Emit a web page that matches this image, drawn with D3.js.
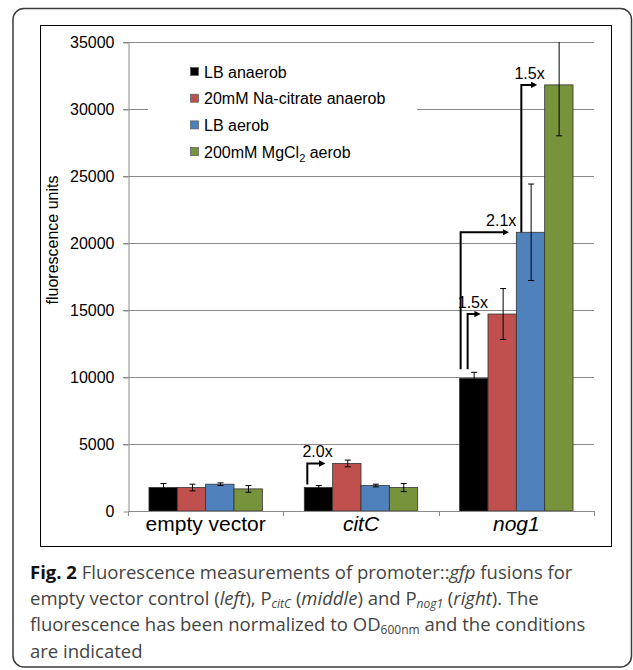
<!DOCTYPE html>
<html>
<head>
<meta charset="utf-8">
<script src="https://cdn.jsdelivr.net/npm/d3@7"></script>
<style>
  html, body { margin: 0; padding: 0; background: #fff; }
  svg { display: block; }
  .chart text { font-family: "Liberation Sans", Arial, sans-serif; fill: #000; }
  .caption text { font-family: "Open Sans", "Noto Sans", sans-serif; fill: #444; }
</style>
</head>
<body>
<svg id="fig" width="633" height="670"></svg>
<script>
'use strict';

// categories and series
var categories = ['empty vector', 'citC', 'nog1'];
var italicCats = ['citC', 'nog1'];
var seriesNames = ['LB anaerob', '20mM Na-citrate anaerob', 'LB aerob', '200mM MgCl2 aerob'];
var seriesColors = ['#000000', '#c0504d', '#4f81bd', '#77933c'];

// mean fluorescence per category, one array per series
var lbAnaerob = [1750, 1750, 9900];
var citrateAnaerob = [1750, 3550, 14700];
var lbAerob = [2000, 1900, 20800];
var mgcl2Aerob = [1650, 1750, 31800];

// error bars (+/-)
var lbAnaerobErr = [300, 150, 450];
var citrateAnaerobErr = [250, 250, 1900];
var lbAerobErr = [100, 100, 3600];
var mgcl2AerobErr = [250, 300, 3800];

var yTicks = [0, 5000, 10000, 15000, 20000, 25000, 30000, 35000];

// fold-change annotations: category, from series index, to series index
var folds = [
  { cat: 'citC', from: 0, to: 1, label: '2.0x' },
  { cat: 'nog1', from: 0, to: 1, label: '1.5x' },
  { cat: 'nog1', from: 0, to: 2, label: '2.1x' },
  { cat: 'nog1', from: 2, to: 3, label: '1.5x' }
];

var values = [lbAnaerob, citrateAnaerob, lbAerob, mgcl2Aerob];
var errors = [lbAnaerobErr, citrateAnaerobErr, lbAerobErr, mgcl2AerobErr];

var svg = d3.select('#fig');

// outer frame and inner chart frame
svg.append('rect')
  .attr('x', 13).attr('y', 8.5)
  .attr('width', 618.5).attr('height', 658.5)
  .attr('rx', 11)
  .attr('fill', 'none')
  .attr('stroke', '#3a3a3a')
  .attr('stroke-width', 1.5);

var chart = svg.append('g').attr('class', 'chart');

chart.append('rect')
  .attr('x', 40.5).attr('y', 25.5)
  .attr('width', 571).attr('height', 521)
  .attr('fill', '#fff')
  .attr('stroke', '#000')
  .attr('stroke-width', 1);

var plotLeft = 128, plotRight = 594;

var x0 = d3.scaleBand()
  .domain(categories)
  .range([plotLeft, plotRight])
  .paddingInner(0.27)
  .paddingOuter(0.135);

var x1 = d3.scaleBand()
  .domain(d3.range(seriesNames.length))
  .range([0, x0.bandwidth()]);

var y = d3.scaleLinear()
  .domain([0, 35000])
  .range([511, 42]);

// gridlines
chart.append('g')
  .selectAll('line')
  .data(yTicks.filter(function (d) { return d > 0; }))
  .enter()
  .append('line')
  .attr('x1', plotLeft - 5)
  .attr('x2', plotRight)
  .attr('y1', function (d) { return Math.round(y(d)) + 0.5; })
  .attr('y2', function (d) { return Math.round(y(d)) + 0.5; })
  .attr('stroke', '#8a8a8a')
  .attr('stroke-width', 1);

// y axis
var yAxis = chart.append('g')
  .attr('transform', 'translate(' + (plotLeft + 0.5) + ',0.5)')
  .call(d3.axisLeft(y).tickValues(yTicks).tickSize(5).tickSizeOuter(0).tickFormat(d3.format('d')));
yAxis.select('.domain').attr('stroke', '#8a8a8a');
yAxis.selectAll('.tick line').attr('stroke', '#8a8a8a');
yAxis.selectAll('.tick text')
  .attr('x', -14)
  .style('font-size', '16px')
  .style('font-family', '"Liberation Sans", Arial, sans-serif');

// y label
chart.append('text')
  .attr('transform', 'translate(58,240) rotate(-90)')
  .attr('text-anchor', 'middle')
  .style('font-size', '16px')
  .text('fluorescence units');

// legend (white box hides gridline)
var legend = chart.append('g');
legend.append('rect')
  .attr('x', 148).attr('y', 56)
  .attr('width', 269).attr('height', 110)
  .attr('fill', '#fff');

var legendItems = legend.selectAll('g.item')
  .data(seriesNames)
  .enter()
  .append('g')
  .attr('class', 'item')
  .attr('transform', function (d, i) { return 'translate(190,' + (72 + i * 26.7) + ')'; });

legendItems.append('rect')
  .attr('x', 0.5).attr('y', -4.5)
  .attr('width', 8).attr('height', 8)
  .attr('fill', function (d, i) { return seriesColors[i]; })
  .attr('stroke', '#555')
  .attr('stroke-width', 0.7);

legendItems.append('text')
  .attr('x', 14)
  .attr('dy', '0.35em')
  .style('font-size', '16px')
  .each(function (d) {
    var t = d3.select(this);
    if (d.indexOf('MgCl2') >= 0) {
      t.append('tspan').text('200mM MgCl');
      t.append('tspan').attr('dy', 4).style('font-size', '11px').text('2');
      t.append('tspan').attr('dy', -4).text(' aerob');
    } else {
      t.text(d);
    }
  });

// bars
var groups = chart.append('g')
  .selectAll('g')
  .data(categories)
  .enter()
  .append('g')
  .attr('transform', function (d) { return 'translate(' + x0(d) + ',0)'; });

var cells = groups.selectAll('g.cell')
  .data(function (d, ci) {
    return seriesNames.map(function (s, si) {
      return { si: si, ci: ci, v: values[si][ci], e: errors[si][ci] };
    });
  })
  .enter()
  .append('g')
  .attr('class', 'cell');

cells.append('rect')
  .attr('x', function (d) { return x1(d.si); })
  .attr('y', function (d) { return y(d.v); })
  .attr('width', x1.bandwidth())
  .attr('height', function (d) { return y(0) - y(d.v); })
  .attr('fill', function (d) { return seriesColors[d.si]; })
  .attr('stroke', '#333')
  .attr('stroke-width', 0.8);

// error bars
var capW = 3;
cells.each(function (d) {
  var g = d3.select(this);
  var cx = Math.round(x1(d.si) + x1.bandwidth() / 2) + 0.5;
  var top = y(Math.min(d.v + d.e, 35000));
  var bot = y(d.v - d.e);
  g.append('line')
    .attr('x1', cx).attr('x2', cx)
    .attr('y1', top).attr('y2', bot)
    .attr('stroke', '#000').attr('stroke-width', 1);
  if (d.v + d.e <= 35000) {
    g.append('line')
      .attr('x1', cx - capW).attr('x2', cx + capW)
      .attr('y1', top).attr('y2', top)
      .attr('stroke', '#000').attr('stroke-width', 1);
  }
  g.append('line')
    .attr('x1', cx - capW).attr('x2', cx + capW)
    .attr('y1', bot).attr('y2', bot)
    .attr('stroke', '#000').attr('stroke-width', 1);
});

// x axis
chart.append('line')
  .attr('x1', plotLeft).attr('x2', plotRight)
  .attr('y1', Math.round(y(0)) + 0.5).attr('y2', Math.round(y(0)) + 0.5)
  .attr('stroke', '#8a8a8a');

var bounds = [plotLeft].concat(categories.map(function (c) { return x0(c) + x0.bandwidth() + x0.step() * x0.paddingInner() / 2; }));
bounds[bounds.length - 1] = plotRight;
chart.append('g')
  .selectAll('line')
  .data(bounds)
  .enter()
  .append('line')
  .attr('x1', function (d) { return Math.round(d) + 0.5; })
  .attr('x2', function (d) { return Math.round(d) + 0.5; })
  .attr('y1', y(0)).attr('y2', y(0) + 5)
  .attr('stroke', '#8a8a8a');

chart.append('g')
  .selectAll('text')
  .data(categories)
  .enter()
  .append('text')
  .attr('x', function (d) { return x0(d) + x0.bandwidth() / 2; })
  .attr('y', 531)
  .attr('text-anchor', 'middle')
  .style('font-size', '21px')
  .style('font-style', function (d) { return italicCats.indexOf(d) >= 0 ? 'italic' : 'normal'; })
  .text(function (d) { return d; });

// fold-change arrows
var defs = svg.append('defs');
defs.append('marker')
  .attr('id', 'arrow')
  .attr('viewBox', '0 0 10 10')
  .attr('refX', 1).attr('refY', 5)
  .attr('markerWidth', 3.2).attr('markerHeight', 3.2)
  .attr('orient', 'auto')
  .append('path')
  .attr('d', 'M0,0 L10,5 L0,10 z')
  .attr('fill', '#000');

var foldDx = [3, 8, 1, 5];
var foldGap = [3, 9, 9, 0];

folds.forEach(function (f, i) {
  var ci = categories.indexOf(f.cat);
  var vx = x0(f.cat) + x1(f.from) + foldDx[i];
  var y0 = y(values[f.from][ci]) - foldGap[i];
  var yt = y(values[f.to][ci]);
  var tx = x0(f.cat) + x1(f.to);
  chart.append('path')
    .attr('d', 'M' + vx + ',' + y0 + 'V' + yt + 'H' + (tx - 13))
    .attr('fill', 'none')
    .attr('stroke', '#000')
    .attr('stroke-width', 2)
    .attr('marker-end', 'url(#arrow)');
  chart.append('text')
    .attr('x', tx)
    .attr('y', yt - 6)
    .attr('text-anchor', 'end')
    .style('font-size', '16px')
    .text(f.label);
});

// caption
var cap = svg.append('g').attr('class', 'caption');
var lines = [
  [['Fig. 2 ', 'b'], ['Fluorescence measurements of promoter::', ''], ['gfp', 'i'], [' fusions for', '']],
  [['empty vector control (', ''], ['left', 'i'], ['), P', ''], ['citC', 'is'], [' (', ''], ['middle', 'i'], [') and P', ''], ['nog1', 'is'], [' (', ''], ['right', 'i'], ['). The', '']],
  [['fluorescence has been normalized to OD', ''], ['600nm', 's'], [' and the conditions', '']],
  [['are indicated', '']]
];
lines.forEach(function (parts, li) {
  var t = cap.append('text')
    .attr('x', 30)
    .attr('y', 579 + li * 26.2)
    .style('font-size', '18.5px');
  var prevSub = false;
  parts.forEach(function (p) {
    var ts = t.append('tspan').text(p[0]);
    if (prevSub) ts.attr('dy', -3);
    prevSub = false;
    if (p[1].indexOf('b') >= 0) ts.style('font-weight', 'bold').style('fill', '#111');
    if (p[1].indexOf('i') >= 0) ts.style('font-style', 'italic');
    if (p[1].indexOf('s') >= 0) {
      ts.attr('dy', 3).style('font-size', '12px');
      prevSub = true;
    }
  });
});
</script>
</body>
</html>
